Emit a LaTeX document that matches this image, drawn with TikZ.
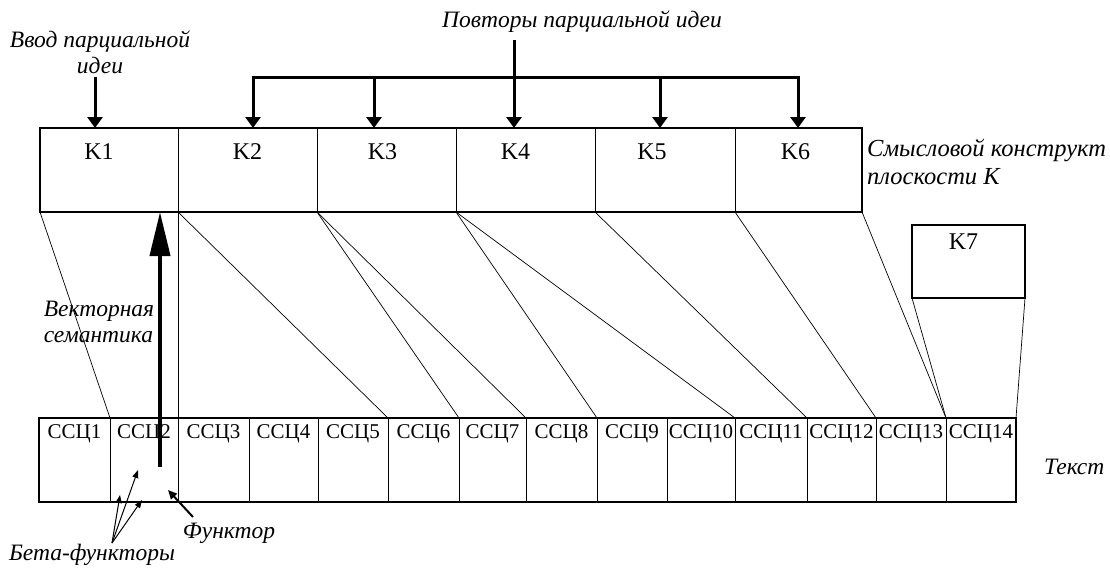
\documentclass[tikz,border=0pt]{standalone}
\usepackage{fontspec}
\setmainfont{Liberation Serif}
\usetikzlibrary{arrows.meta}
\begin{document}
\begin{tikzpicture}[x=1pt,y=-1pt,
  kcell/.style={draw, line width=0.8pt, minimum height=84pt, anchor=north west, inner sep=0pt, outer sep=0pt},
  scell/.style={draw, line width=0.8pt, minimum height=84pt, anchor=north west, inner sep=0pt, outer sep=0pt},
  klab/.style={anchor=north, inner sep=0pt, text height=16pt, text depth=0pt, yshift=-15pt, font=\fontsize{24}{24}\selectfont},
  slab/.style={anchor=north, inner sep=0pt, text height=14pt, text depth=0pt, yshift=-6pt, font=\fontsize{21}{21}\selectfont},
  ital/.style={font=\fontsize{23.5}{26}\selectfont\itshape, inner sep=0pt},
  frame/.style={line width=1.6pt},
  conn/.style={line width=0.7pt},
  bar/.style={line width=3pt},
  barrow/.style={line width=3pt, -{Triangle[width=15pt,length=11pt]}},
  bigarrow/.style={line width=4pt, -{Triangle[width=20pt,length=44pt]}},
  smallarrow/.style={line width=1pt, -{Triangle[width=6pt,length=8pt]}},
  farrow/.style={line width=2pt, -{Triangle[width=8pt,length=9pt]}}
]
\useasboundingbox (0,0) rectangle (1110,570);

% K cells
\node[kcell, minimum width=138pt, label={[klab,xshift=-10pt]north:K1}] (k1) at (40,128) {};
\node[kcell, minimum width=139pt, label={[klab]north:K2}] (k2) at (178,128) {};
\node[kcell, minimum width=139pt, label={[klab,xshift=-4pt]north:K3}] (k3) at (317,128) {};
\node[kcell, minimum width=139pt, label={[klab,xshift=-10pt]north:K4}] (k4) at (456,128) {};
\node[kcell, minimum width=140pt, label={[klab,xshift=-13pt]north:K5}] (k5) at (595,128) {};
\node[kcell, minimum width=127pt, label={[klab,xshift=-3pt]north:K6}] (k6) at (735,128) {};
\draw[frame] (k1.north west) rectangle (k6.south east);

% K7
\node[kcell, draw, line width=1.2pt, minimum width=113pt, minimum height=73pt, label={[klab,yshift=7pt,xshift=-5pt]north:K7}] (k7) at (912,225) {};

% text cells
\foreach \i/\a/\b in {1/39/110,2/110/178,3/178/249,4/249/318,5/318/388,6/388/459,7/459/526,8/526/597,9/597/667,10/667/735,11/735/807,12/807/876,13/876/946,14/946/1016}{
  \pgfmathsetmacro{\w}{\b-\a}
  \node[scell, minimum width=\w pt, label={[slab]north:ССЦ\i}] (s\i) at (\a,418) {};
}
\draw[frame] (s1.north west) rectangle (s14.south east);

% connectors
\draw[conn] (k1.south west) -- (s1.north east);
\draw[conn] (k1.south east) -- (s2.north east);
\draw[conn] (k2.south west) -- (s5.north east);
\draw[conn] (k3.south west) -- (s6.north east);
\draw[conn] (k3.south west) -- (s7.north east);
\draw[conn] (k4.south west) -- (s8.north east);
\draw[conn] (k4.south west) -- (s10.north east);
\draw[conn] (k5.south west) -- (s11.north east);
\draw[conn] (k6.south west) -- (s12.north east);
\draw[conn] (k6.south east) -- (s13.north east);
\draw[conn] (k7.south west) -- (s13.north east);
\draw[conn] (k7.south east) -- (s14.north east);

% labels
\node[ital, align=center] (vvod) at (100,52) {Ввод парциальной\\идеи};
\node[ital] (rep) at (582,22) {Повторы парциальной идеи};
\node[ital, align=left, anchor=west, font=\fontsize{24.5}{28}\selectfont\itshape] (smk) at (867,162) {Смысловой конструкт\\плоскости К};
\node[ital, align=left] (vec) at (99,322) {Векторная\\семантика};
\node[ital, anchor=west] (txt) at (1044,467) {Текст};
\node[ital] (fun) at (229,533) {Функтор};
\node[ital] (beta) at (92,555) {Бета-функторы};

% top arrows
\coordinate (i1) at (95,77);
\draw[barrow] (i1) -- (i1 |- k1.north);
\coordinate (b2) at (253,77);
\coordinate (b3) at (374,77);
\coordinate (b5) at (660,77);
\coordinate (b6) at (798,77);
\coordinate (r4) at (514,40);
\draw[bar] ([xshift=-1.5pt]b2) -- ([xshift=1.5pt]b6);
\draw[barrow] (b2) -- (b2 |- k2.north);
\draw[barrow] (b3) -- (b3 |- k3.north);
\draw[barrow] (b5) -- (b5 |- k5.north);
\draw[barrow] (b6) -- (b6 |- k6.north);
\draw[barrow] (r4) -- (r4 |- k4.north);

% vector semantics arrow
\coordinate (v0) at (160,467);
\draw[bigarrow] (v0) -- (v0 |- k1.south);

% beta functors
\coordinate (bf) at (112,543);
\coordinate (bt1) at (138,470);
\coordinate (bt2) at (120,495);
\coordinate (bt3) at (142,500);
\draw[smallarrow] (bf) -- (bt1);
\draw[smallarrow] (bf) -- (bt2);
\draw[smallarrow] (bf) -- (bt3);

% functor
\coordinate (ff) at (193,517);
\coordinate (ft) at (168,490);
\draw[farrow] (ff) -- (ft);
\end{tikzpicture}
\end{document}
